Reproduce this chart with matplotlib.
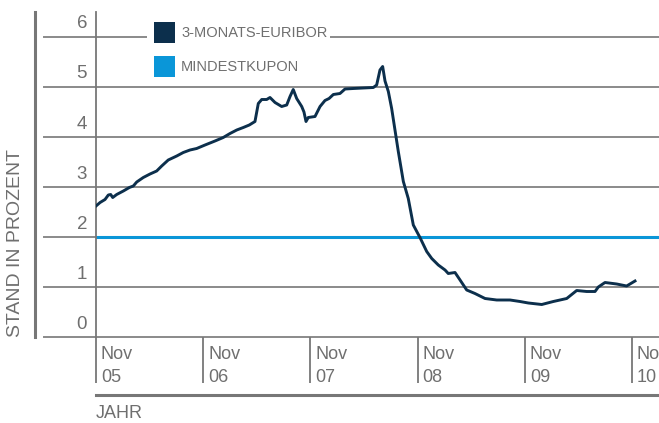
import matplotlib
matplotlib.use("Agg")
import matplotlib.pyplot as plt
from matplotlib import font_manager
from matplotlib.patches import Rectangle
import matplotlib.transforms as mtransforms

# Schrift: schmale Sans, wenn vorhanden
namen = {f.name for f in font_manager.fontManager.ttflist}
schrift = "Liberation Sans Narrow" if "Liberation Sans Narrow" in namen else "Liberation Sans"
plt.rcParams["font.family"] = [schrift, "DejaVu Sans"]

# ---------------------------------------------------------------
# Daten: Zeit als Dezimaljahr, Euribor in Prozent
# ---------------------------------------------------------------
jahr = [2005.833, 2005.871, 2005.917, 2005.948, 2005.970, 2005.989, 2006.026, 2006.088,
        2006.144, 2006.181, 2006.213, 2006.274, 2006.337, 2006.399, 2006.446, 2006.507,
        2006.586, 2006.647, 2006.710, 2006.772, 2006.850, 2006.943, 2007.020, 2007.083,
        2007.146, 2007.207, 2007.263, 2007.316, 2007.347, 2007.379, 2007.425, 2007.456,
        2007.503, 2007.565, 2007.612, 2007.643, 2007.673, 2007.705, 2007.752, 2007.773,
        2007.792, 2007.813, 2007.876, 2007.923, 2007.969, 2008.007, 2008.047, 2008.109,
        2008.156, 2008.233, 2008.420, 2008.451, 2008.482, 2008.507, 2008.529, 2008.560,
        2008.591, 2008.622, 2008.653, 2008.700, 2008.746, 2008.793, 2008.855, 2008.918,
        2008.965, 2009.026, 2009.089, 2009.119, 2009.182, 2009.229, 2009.291, 2009.368,
        2009.462, 2009.571, 2009.695, 2009.788, 2009.866, 2009.991, 2010.099, 2010.224,
        2010.317, 2010.410, 2010.488, 2010.519, 2010.581, 2010.690, 2010.783, 2010.861]
euribor = [2.62, 2.69, 2.75, 2.84, 2.85, 2.79, 2.85, 2.92,
           2.99, 3.02, 3.10, 3.19, 3.26, 3.32, 3.42, 3.54,
           3.62, 3.69, 3.74, 3.77, 3.84, 3.92, 3.99, 4.07,
           4.14, 4.19, 4.24, 4.31, 4.67, 4.75, 4.75, 4.79,
           4.69, 4.61, 4.64, 4.81, 4.95, 4.77, 4.61, 4.50,
           4.31, 4.39, 4.41, 4.61, 4.73, 4.77, 4.85, 4.87,
           4.96, 4.97, 4.99, 5.04, 5.34, 5.41, 5.12, 4.91,
           4.57, 4.14, 3.71, 3.11, 2.77, 2.24, 1.99, 1.71,
           1.57, 1.44, 1.34, 1.27, 1.29, 1.14, 0.94, 0.87,
           0.77, 0.74, 0.74, 0.71, 0.68, 0.65, 0.71, 0.77,
           0.93, 0.91, 0.91, 1.00, 1.09, 1.06, 1.02, 1.12]
mindestkupon = 2.0

x_ticks = [2005.833, 2006.833, 2007.833, 2008.833, 2009.833, 2010.833]
x_labels = ["Nov\n05", "Nov\n06", "Nov\n07", "Nov\n08", "Nov\n09", "Nov\n10"]
y_ticks = [0, 1, 2, 3, 4, 5, 6]

grau = "#777777"
text_grau = "#6f6f6f"
dunkel = "#0c2f4c"
hellblau = "#0a96d8"

fig = plt.figure(figsize=(6.59, 4.23), dpi=100)
W, H = 659, 423
ax = fig.add_axes([96 / W, 1 - 337 / H, 563 / W, 325 / H])
ax.set_xlim(2005.833, 2005.833 + 563 / 107.2)
ax.set_ylim(0, 6.5)

for s in ["top", "right", "bottom"]:
    ax.spines[s].set_visible(False)
ax.spines["left"].set_color(grau)
ax.spines["left"].set_linewidth(1.3)

# Gitterlinien, nach links über die Achse hinaus
for y in y_ticks:
    ax.axhline(y, xmin=-52 / 563, xmax=1, color="#8a8a8a", lw=1.4, clip_on=False, zorder=1)
    ax.text(-9 / 563, (y + 0.26) / 6.5, str(y), transform=ax.transAxes, ha="right",
            va="center", fontsize=13.5, color=text_grau)
ax.set_yticks([])

# Kurven
ax.axhline(mindestkupon, color=hellblau, lw=2.2, zorder=2)
ax.plot(jahr, euribor, color=dunkel, lw=2.1, zorder=3)

# x-Achse: lange Striche nach unten, Beschriftung rechts daneben
ax.set_xticks(x_ticks)
ax.set_xticklabels([])
ax.tick_params(axis="x", direction="out", length=33, width=1.3, color=grau)
trans = mtransforms.blended_transform_factory(ax.transData, fig.transFigure)
for xt, lab in zip(x_ticks, x_labels):
    ax.text(xt + 5 / 107.2, 1 - 366 / H, lab, transform=trans, ha="left", va="center",
            fontsize=13, color=text_grau, linespacing=1.45, clip_on=False)

# dicke Linie unter der x-Achse und "JAHR"
fig.add_artist(plt.Line2D([96 / W, 1], [1 - 395 / H] * 2, color=grau, lw=2.2))
fig.text(96 / W, 1 - 413 / H, "JAHR", ha="left", va="center", fontsize=13, color=text_grau)

# linke senkrechte Linie und y-Beschriftung
fig.add_artist(plt.Line2D([35 / W] * 2, [1 - 12 / H, 1 - 337 / H], color=grau, lw=2.2))
fig.text(16 / W, 1 - 337 / H, "STAND IN PROZENT", rotation=90, ha="center", va="bottom",
         fontsize=14, color=text_grau)

# Legende von Hand, weißer Hintergrund unterbricht die oberste Gitterlinie
fig.add_artist(Rectangle((147 / W, 1 - 82 / H), 183 / W, 68 / H, transform=fig.transFigure,
                         facecolor="white", edgecolor="none", zorder=5))
for i, (farbe, name) in enumerate([(dunkel, "3-MONATS-EURIBOR"), (hellblau, "MINDESTKUPON")]):
    top = 22 + i * 34
    fig.add_artist(Rectangle((154 / W, 1 - (top + 21) / H), 21 / W, 21 / H,
                             transform=fig.transFigure, facecolor=farbe, edgecolor="none",
                             zorder=6))
    fig.text(181 / W, 1 - (top + 11) / H, name, ha="left", va="center", fontsize=10.5,
             color=text_grau, zorder=7)

fig.savefig("out.png", dpi=100)
